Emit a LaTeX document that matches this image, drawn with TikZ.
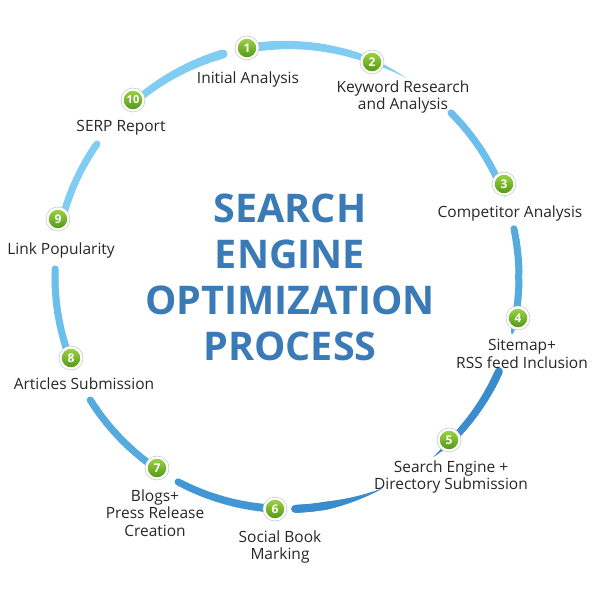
\documentclass[tikz,border=0pt]{standalone}
\usepackage{fontspec}
\setmainfont{Open Sans}
\usetikzlibrary{calc}

\definecolor{seoblue}{RGB}{58,122,182}
\definecolor{greenlight}{RGB}{160,212,70}
\definecolor{greendark}{RGB}{78,150,20}
\definecolor{arcA}{RGB}{128,204,242}
\definecolor{arcB}{RGB}{108,190,236}
\definecolor{arcC}{RGB}{85,170,222}
\definecolor{arcD}{RGB}{58,140,204}
\definecolor{arcE}{RGB}{66,150,212}

\tikzset{
  numball/.style={circle, minimum size=21pt, inner sep=0pt, draw=white, line width=2.2pt,
    top color=greenlight, bottom color=greendark, text=white,
    preaction={draw=black!22, line width=3.6pt},
    font=\bfseries\fontsize{12}{12}\selectfont},
  stagelabel/.style={align=center, inner sep=0pt, text=black!85,
    font=\fontsize{15.5}{17.5}\selectfont},
  titletext/.style={align=center, inner sep=0pt, text=seoblue,
    font=\bfseries\fontsize{39.5}{46}\selectfont}
}

% brush stroke along the ring: start angle, end angle, start width, end width, colour
\newcommand{\brush}[5]{%
  \foreach \i in {1,...,24}{
    \pgfmathsetmacro{\aa}{-(#1+(#2-#1)*(\i-1)/24)}
    \pgfmathsetmacro{\ab}{-(#1+(#2-#1)*\i/24)}
    \pgfmathsetmacro{\ww}{#3+(#4-#3)*(\i-0.5)/24}
    \draw[#5, line width=\ww pt, line cap=round]
      ($(C)+(\aa:232)$) arc[start angle=\aa, end angle=\ab, radius=232];
  }%
}

\begin{document}
\begin{tikzpicture}[x=1pt, y=-1pt]
    \useasboundingbox (0,0) rectangle (600,600);
    \coordinate (C) at (287,277);

    % ring
    \brush{131}{106}{7}{9}{arcA}
    \brush{100}{73}{9}{7}{arcA}
    \brush{73}{59}{7}{0}{arcA}
    \brush{45}{26}{7}{7}{arcB}
    \brush{26}{20}{7}{0}{arcB}
    \brush{12}{-11}{7}{7}{arcC}
    \brush{-11}{-14}{7}{2}{arcC}
    \brush{-24}{-43}{8}{7}{arcD}
    \brush{-43}{-51}{7}{0}{arcD}
    \brush{-66}{-80}{0.5}{8}{arcD}
    \brush{-80}{-88}{8}{8}{arcD}
    \brush{-93}{-118}{8}{7}{arcE}
    \brush{-125}{-148}{7}{7}{arcC}
    \brush{-160}{-182}{7}{7}{arcB}
    \brush{165}{145}{7}{7}{arcA}

    % numbered balls
    \node[numball] (b1) at (247,48) {1};
    \node[numball] (b2) at (372,62) {2};
    \node[numball] (b3) at (504,184) {3};
    \node[numball] (b4) at (518,318) {4};
    \node[numball] (b5) at (449,440) {5};
    \node[numball] (b6) at (275,509) {6};
    \node[numball] (b7) at (157,468) {7};
    \node[numball] (b8) at (71,358) {8};
    \node[numball] (b9) at (58,219) {9};
    \node[numball, font=\bfseries\fontsize{11}{11}\selectfont] (b10) at (133,100) {10};

    % stage names
    \node[stagelabel] (l1) at (248,79) {Initial Analysis};
    \node[stagelabel] (l2) at (403,97) {Keyword Research\\and Analysis};
    \node[stagelabel] (l3) at (510,213) {Competitor Analysis};
    \node[stagelabel] (l4) at (522,354) {Sitemap+\\RSS feed Inclusion};
    \node[stagelabel] (l5) at (451,477) {Search Engine +\\Directory Submission};
    \node[stagelabel] (l6) at (280,547) {Social Book\\Marking};
    \node[stagelabel] (l7) at (155,513) {Blogs+\\Press Release\\Creation};
    \node[stagelabel] (l8) at (84,384) {Articles Submission};
    \node[stagelabel] (l9) at (61,250) {Link Popularity};
    \node[stagelabel] (l10) at (121,128) {SERP Report};

    % title
    \node[titletext] (title) at (290,277.5) {SEARCH\\ENGINE\\OPTIMIZATION\\PROCESS};
\end{tikzpicture}
\end{document}
